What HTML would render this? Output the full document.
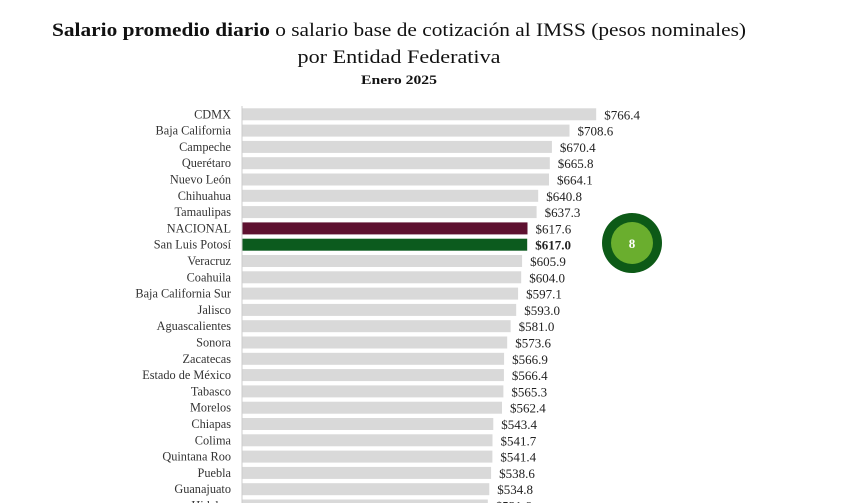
<!DOCTYPE html>
<html><head><meta charset="utf-8"><style>
html,body{margin:0;padding:0;background:#fff;}
svg{display:block;}
</style></head><body>
<svg width="844" height="503" viewBox="0 0 844 503" xmlns="http://www.w3.org/2000/svg" font-family="Liberation Serif, serif">
<text x="399" y="36" text-anchor="middle" font-size="19" fill="#111" textLength="694" lengthAdjust="spacingAndGlyphs"><tspan font-weight="bold">Salario promedio diario</tspan> o salario base de cotización al IMSS (pesos nominales)</text>
<text x="399" y="63" text-anchor="middle" font-size="19" fill="#111" textLength="203" lengthAdjust="spacingAndGlyphs">por Entidad Federativa</text>
<text x="399" y="84" text-anchor="middle" font-size="13" font-weight="bold" fill="#111" textLength="76" lengthAdjust="spacingAndGlyphs">Enero 2025</text>
<line x1="242" y1="106" x2="242" y2="503" stroke="#ccc" stroke-width="1"/>
<g id="rows"></g>
<circle cx="632" cy="243" r="30" fill="#0d5a17"/>
<circle cx="632" cy="243" r="21" fill="#6aae2e"/>
<text x="632" y="248" text-anchor="middle" font-size="13" font-weight="bold" fill="#fff">8</text>
</svg>
<script>
var d=[["CDMX",766.4],["Baja California",708.6],["Campeche",670.4],["Querétaro",665.8],["Nuevo León",664.1],["Chihuahua",640.8],["Tamaulipas",637.3],["NACIONAL",617.6],["San Luis Potosí",617.0],["Veracruz",605.9],["Coahuila",604.0],["Baja California Sur",597.1],["Jalisco",593.0],["Aguascalientes",581.0],["Sonora",573.6],["Zacatecas",566.9],["Estado de México",566.4],["Tabasco",565.3],["Morelos",562.4],["Chiapas",543.4],["Colima",541.7],["Quintana Roo",541.4],["Puebla",538.6],["Guanajuato",534.8],["Hidalgo",531.6]];
var g=document.getElementById("rows"),h="";
d.forEach(function(r,i){
 var cy=114.3+i*16.3,w=r[1]*0.4615,c=i==7?"#5e1130":(i==8?"#0c5b1e":"#d9d9d9");
 h+='<rect x="242.5" y="'+(cy-6).toFixed(1)+'" width="'+w.toFixed(1)+'" height="12" fill="'+c+'"/>';
 h+='<text x="231" y="'+(cy+4).toFixed(1)+'" text-anchor="end" font-size="12.3" fill="#333">'+r[0]+'</text>';
 h+='<text x="'+(242.5+w+8).toFixed(1)+'" y="'+(cy+5).toFixed(1)+'" font-size="13" fill="#222"'+(i==8?' font-weight="bold"':'')+'>$'+r[1].toFixed(1)+'</text>';
});
g.innerHTML=h;
</script>
</body></html>
